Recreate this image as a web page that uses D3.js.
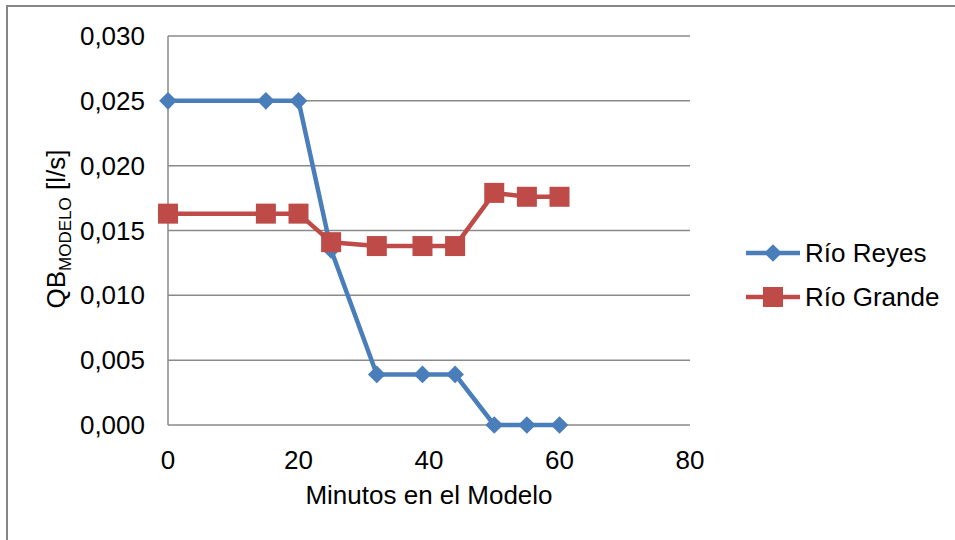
<!DOCTYPE html>
<html>
<head>
<meta charset="utf-8">
<script src="https://cdn.jsdelivr.net/npm/d3@7"></script>
<style>
  html, body { margin: 0; padding: 0; background: #fff; }
  svg { display: block; font-family: "Liberation Sans", Arial, sans-serif; }
</style>
</head>
<body>
<svg id="chart" width="955" height="540"></svg>
<script>
// Minutes of model time
const minutes = [0, 15, 20, 25, 32, 39, 44, 50, 55, 60];
// Flow QB (l/s) for each river
const rioReyes  = [0.025, 0.025, 0.025, 0.0135, 0.0039, 0.0039, 0.0039, 0.0, 0.0, 0.0];
const rioGrande = [0.0163, 0.0163, 0.0163, 0.0141, 0.0138, 0.0138, 0.0138, 0.0179, 0.0176, 0.0176];
const seriesNames = ["Río Reyes", "Río Grande"];
const xTicks = [0, 20, 40, 60, 80];
const yTicks = [0, 0.005, 0.010, 0.015, 0.020, 0.025, 0.030];

const colors = ["#4A7EBB", "#BE4B48"];
const fontSize = 26;
const svg = d3.select("#chart");

// Outer chart frame
svg.append("rect")
  .attr("x", 7).attr("y", 6).attr("width", 960).attr("height", 560)
  .attr("fill", "none").attr("stroke", "#868686").attr("stroke-width", 2);

const plot = { left: 168, right: 690, top: 36, bottom: 425 };
const x = d3.scaleLinear().domain([0, 80]).range([plot.left, plot.right]);
const y = d3.scaleLinear().domain([0, 0.030]).range([plot.bottom, plot.top]);

// Horizontal gridlines
svg.append("g").selectAll("line").data(yTicks).join("line")
  .attr("x1", plot.left).attr("x2", plot.right)
  .attr("y1", d => y(d)).attr("y2", d => y(d))
  .attr("stroke", "#8a8a8a").attr("stroke-width", 1.5);

// Y axis line
svg.append("line")
  .attr("x1", plot.left).attr("x2", plot.left)
  .attr("y1", plot.top).attr("y2", plot.bottom)
  .attr("stroke", "#8a8a8a").attr("stroke-width", 1.5);

// Y tick labels (comma decimal)
const fmtY = d => d3.format(".3f")(d).replace(".", ",");
svg.append("g").selectAll("text").data(yTicks).join("text")
  .attr("x", 145).attr("y", d => y(d))
  .attr("dy", "0.35em").attr("text-anchor", "end")
  .attr("font-size", fontSize).attr("fill", "#000")
  .text(fmtY);

// X tick labels
svg.append("g").selectAll("text").data(xTicks).join("text")
  .attr("x", d => x(d)).attr("y", 460)
  .attr("dy", "0.35em")
  .attr("text-anchor", "middle")
  .attr("font-size", fontSize).attr("fill", "#000")
  .text(d => d);

// X axis title
svg.append("text")
  .attr("x", x(40)).attr("y", 495)
  .attr("dy", "0.35em")
  .attr("text-anchor", "middle").attr("font-size", fontSize)
  .text("Minutos en el Modelo");

// Y axis title with subscript
const yTitle = svg.append("text")
  .attr("transform", "translate(65," + 229 + ") rotate(-90)")
  .attr("text-anchor", "middle").attr("font-size", fontSize);
yTitle.append("tspan").text("QB");
yTitle.append("tspan").attr("font-size", 17).attr("dy", 6).text("MODELO");
yTitle.append("tspan").attr("dy", -6).text(" [l/s]");

const data = [rioReyes, rioGrande].map((vals, i) => ({
  name: seriesNames[i],
  color: colors[i],
  points: minutes.map((m, j) => ({ x: m, y: vals[j] }))
}));

const line = d3.line().x(d => x(d.x)).y(d => y(d.y));
const diamond = d3.symbol(d3.symbolDiamond2, 200);

data.forEach((s, i) => {
  const g = svg.append("g");
  g.append("path").datum(s.points)
    .attr("d", line).attr("fill", "none")
    .attr("stroke", s.color).attr("stroke-width", 4.5)
    .attr("stroke-linejoin", "round");
  if (i === 0) {
    g.selectAll("path.m").data(s.points).join("path")
      .attr("class", "m")
      .attr("d", diamond)
      .attr("transform", d => `translate(${x(d.x)},${y(d.y)})`)
      .attr("fill", s.color);
  } else {
    g.selectAll("rect.m").data(s.points).join("rect")
      .attr("class", "m")
      .attr("x", d => x(d.x) - 10).attr("y", d => y(d.y) - 10)
      .attr("width", 20).attr("height", 20)
      .attr("fill", s.color);
  }
});

// Legend
const legend = svg.append("g");
data.forEach((s, i) => {
  const ly = 253 + i * 44;
  legend.append("line")
    .attr("x1", 746).attr("x2", 800).attr("y1", ly).attr("y2", ly)
    .attr("stroke", s.color).attr("stroke-width", 4.5);
  if (i === 0) {
    legend.append("path")
      .attr("d", diamond)
      .attr("transform", `translate(773,${ly})`)
      .attr("fill", s.color);
  } else {
    legend.append("rect")
      .attr("x", 763).attr("y", ly - 10).attr("width", 20).attr("height", 20)
      .attr("fill", s.color);
  }
  legend.append("text")
    .attr("x", 805).attr("y", ly).attr("dy", "0.35em")
    .attr("font-size", fontSize).text(s.name);
});
</script>
</body>
</html>
